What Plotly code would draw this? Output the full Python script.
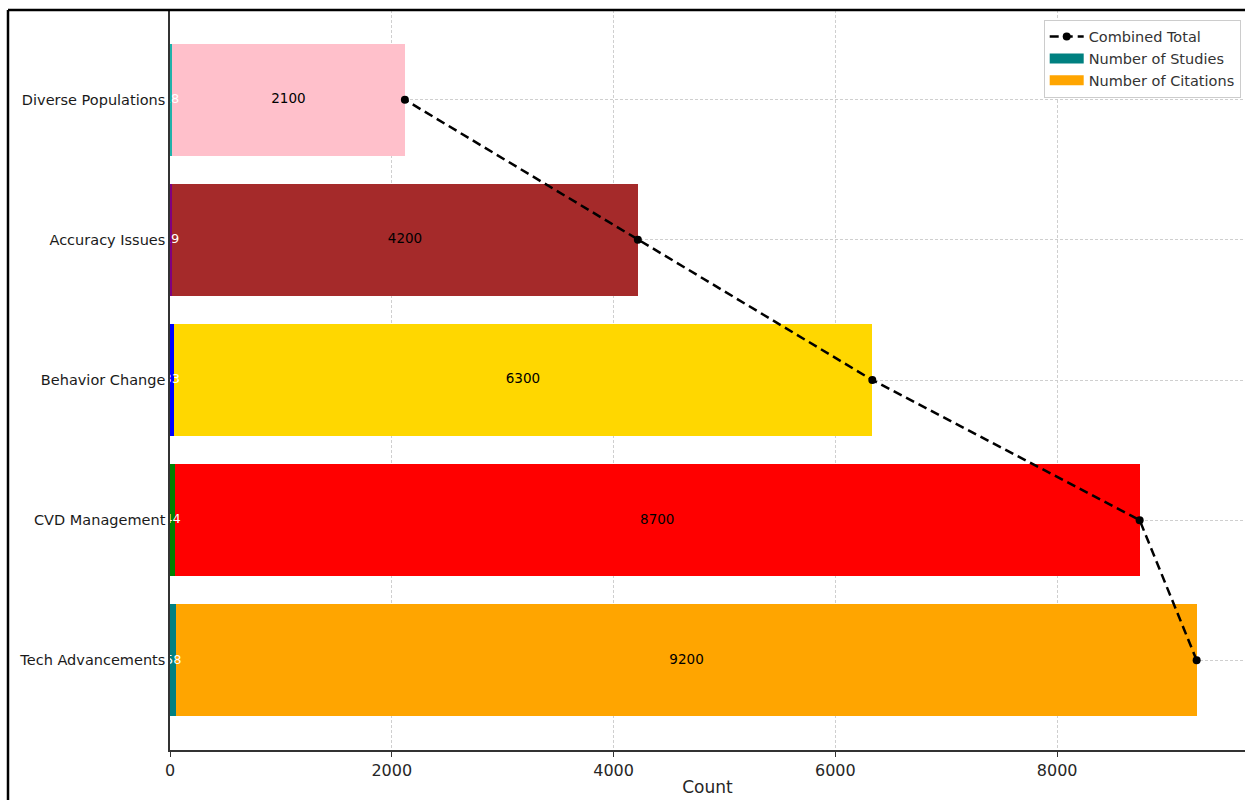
import plotly.graph_objects as go

categories = ["Tech Advancements", "CVD Management", "Behavior Change", "Accuracy Issues", "Diverse Populations"]
studies = [58, 44, 33, 19, 18]
citations = [9200, 8700, 6300, 4200, 2100]
study_colors = ["#008080", "#008000", "#0000FF", "#800080", "#20B2AA"]
citation_colors = ["#FFA500", "#FF0000", "#FFD700", "#A52A2A", "#FFC0CB"]
x_ticks = [0, 2000, 4000, 6000, 8000]

ypos = list(range(len(categories)))
totals = [s + c for s, c in zip(studies, citations)]

fig = go.Figure()

fig.add_trace(go.Bar(
    y=ypos, x=studies, base=[0] * len(studies), orientation="h", width=0.8,
    marker=dict(color=study_colors, line=dict(width=0)),
    showlegend=False, hoverinfo="x+y"))
fig.add_trace(go.Bar(
    y=ypos, x=citations, base=studies, orientation="h", width=0.8,
    marker=dict(color=citation_colors, line=dict(width=0)),
    showlegend=False, hoverinfo="x+y"))

# labels
fig.add_trace(go.Scatter(
    x=[s / 2 for s in studies], y=ypos, mode="text",
    text=[str(s) for s in studies], textposition="middle center",
    textfont=dict(family="DejaVu Sans", size=13, color="white"),
    showlegend=False, hoverinfo="skip"))
fig.add_trace(go.Scatter(
    x=[s + c / 2 for s, c in zip(studies, citations)], y=ypos, mode="text",
    text=[str(c) for c in citations], textposition="middle center",
    textfont=dict(family="DejaVu Sans", size=13.5, color="black"),
    showlegend=False, hoverinfo="skip"))

# combined line
fig.add_trace(go.Scatter(
    x=totals, y=ypos, mode="lines+markers", name="Combined Total",
    line=dict(color="black", width=2.5, dash="9px,5px"),
    marker=dict(color="black", size=8), legendrank=1))

# legend entries (patch-like)
fig.add_trace(go.Scatter(x=[None], y=[None], mode="lines", name="Number of Studies",
                         line=dict(color=study_colors[0], width=10), legendrank=2))
fig.add_trace(go.Scatter(x=[None], y=[None], mode="lines", name="Number of Citations",
                         line=dict(color=citation_colors[0], width=10), legendrank=3))

grid = dict(showgrid=True, gridcolor="#cfcfcf", gridwidth=0.8, griddash="3px,2px")

fig.update_layout(
    width=1245, height=800,
    margin=dict(l=170, r=0, t=10, b=50, autoexpand=False),
    paper_bgcolor="white", plot_bgcolor="white",
    barmode="overlay",
    font=dict(family="DejaVu Sans", color="#262626"),
    xaxis=dict(range=[0, 9694], tickvals=x_ticks, ticktext=[str(t) for t in x_ticks],
               tickfont=dict(size=16, color="#262626"), ticks="outside", ticklen=5,
               tickcolor="#333", showline=True, linecolor="#333", linewidth=1.5,
               zeroline=False, layer="above traces",
               title=dict(text="Count", font=dict(size=17, color="#262626"), standoff=2),
               automargin=False, **grid),
    yaxis=dict(range=[-0.64, 4.64], tickvals=ypos, ticktext=categories,
               tickfont=dict(size=14.5, color="#1a1a1a"), ticks="",
               showline=True, linecolor="#333", linewidth=1.5,
               zeroline=False, layer="above traces", automargin=False, **grid),
    legend=dict(x=0.996, y=0.987, xanchor="right", yanchor="top",
                bgcolor="white", bordercolor="#cccccc", borderwidth=1,
                font=dict(size=14.5, color="#333"), itemwidth=34,
                tracegroupgap=0),
    bargap=0,
)

# figure frame lines (left and top)
fig.add_shape(type="line", xref="paper", yref="paper",
              x0=(8 - 170) / 1075, x1=(8 - 170) / 1075, y0=1.0, y1=-0.07,
              line=dict(color="black", width=2.5), layer="above")
fig.add_shape(type="line", xref="paper", yref="paper",
              x0=(8 - 170) / 1075, x1=1.01, y0=1.0, y1=1.0,
              line=dict(color="black", width=2.5), layer="above")

fig.write_html("out.html")
